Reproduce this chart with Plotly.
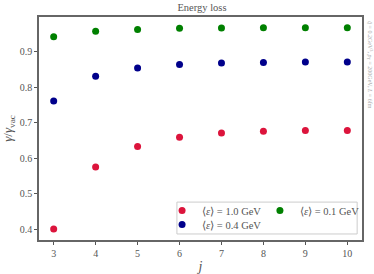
import plotly.graph_objects as go

j = [3, 4, 5, 6, 7, 8, 9, 10]
eps_1_0 = [0.400, 0.575, 0.633, 0.659, 0.671, 0.676, 0.678, 0.678]
eps_0_4 = [0.761, 0.831, 0.854, 0.864, 0.868, 0.870, 0.871, 0.871]
eps_0_1 = [0.942, 0.958, 0.963, 0.966, 0.967, 0.968, 0.968, 0.968]
labels = ["⟨<i>ε</i>⟩ = 1.0 GeV", "⟨<i>ε</i>⟩ = 0.4 GeV", "⟨<i>ε</i>⟩ = 0.1 GeV"]
colors = ["#DC143C", "#00008B", "#008000"]
yticks = [0.4, 0.5, 0.6, 0.7, 0.8, 0.9]
xticks = [3, 4, 5, 6, 7, 8, 9, 10]

FONT = "Liberation Serif"
GREY = "#555555"

fig = go.Figure()
series = [(eps_1_0, labels[0], colors[0], "legend"),
          (eps_0_1, labels[2], colors[2], "legend2"),
          (eps_0_4, labels[1], colors[1], "legend3")]
for vals, lab, col, leg in series:
    fig.add_trace(go.Scatter(x=j, y=vals, mode="markers", name=lab,
                             marker=dict(color=col, size=7, line=dict(width=0)),
                             legend=leg))

axis_common = dict(showline=True, linecolor="#666666", linewidth=1.5, mirror=True,
                   ticks="outside", ticklen=3, tickcolor=GREY, showgrid=False,
                   zeroline=False, automargin=False,
                   tickfont=dict(family=FONT, size=10, color=GREY))

leg_common = dict(xanchor="left", yanchor="bottom", bgcolor="rgba(0,0,0,0)",
                  font=dict(family=FONT, size=10.5, color=GREY))

fig.update_layout(
    width=374, height=274,
    showlegend=True,
    margin=dict(l=39, r=12, t=17, b=34, autoexpand=False),
    paper_bgcolor="white", plot_bgcolor="white",
    font=dict(family=FONT, color=GREY),
    title=dict(text="Energy loss", x=0.54, xanchor="center", y=0.985, yanchor="top",
               font=dict(family=FONT, size=10.5, color=GREY)),
    xaxis=dict(range=[2.65, 10.35], tickvals=xticks,
               title=dict(text="<i>j</i>", font=dict(family=FONT, size=14, color=GREY), standoff=4),
               **axis_common),
    yaxis=dict(range=[0.369, 0.998], tickvals=yticks, tickformat=".1f",
               title=dict(text="<i>γ</i>/<i>γ</i><sub>vac</sub>", font=dict(family=FONT, size=13, color=GREY), standoff=8),
               **axis_common),
    legend=dict(x=0.381, y=0.067, **leg_common),
    legend2=dict(x=0.684, y=0.067, **leg_common),
    legend3=dict(x=0.381, y=0.004, **leg_common),
    shapes=[dict(type="rect", xref="paper", yref="paper", x0=0.427, x1=0.985, y0=0.027, y1=0.170,
                 line=dict(color="#cccccc", width=1), fillcolor="rgba(255,255,255,0.8)", layer="below")],
    annotations=[dict(text="<i>q̂</i> = 0.2GeV<sup>3</sup>, <i>p</i><sub>T</sub> = 200GeV, <i>L</i> = 6fm",
                      xref="paper", yref="paper", x=1.005, y=0.99, xanchor="left", yanchor="top",
                      textangle=90, showarrow=False,
                      font=dict(family=FONT, size=6, color="#aaaaaa"))],
)

fig.write_html("out.html", config={"displayModeBar": False},
               post_script="document.body.style.margin='0';")
